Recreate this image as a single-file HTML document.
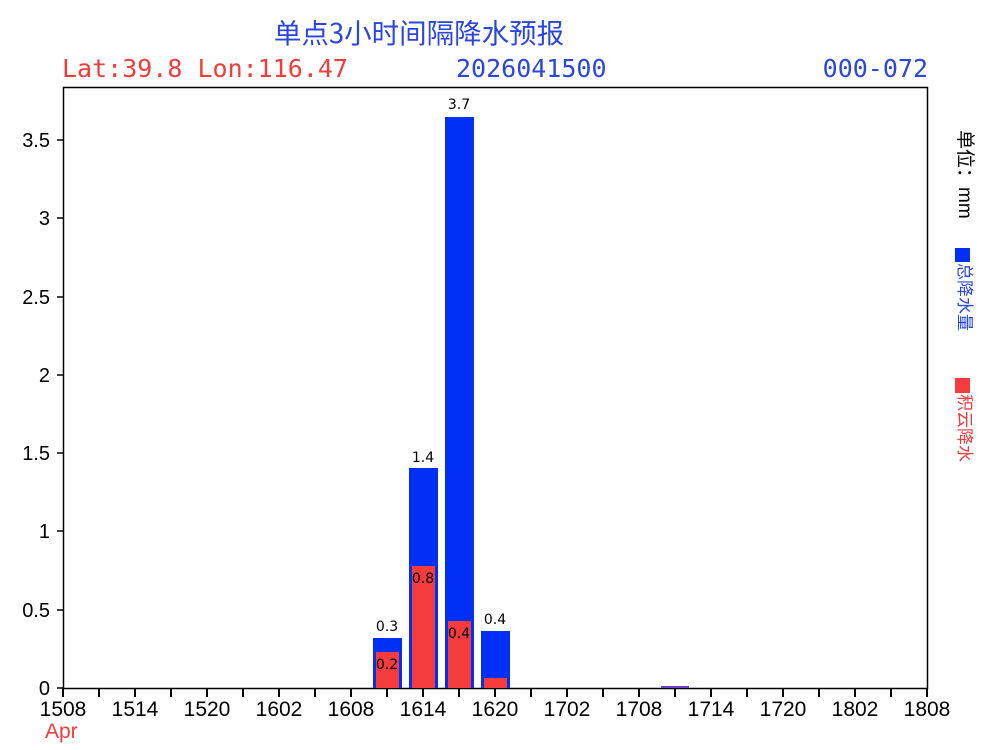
<!DOCTYPE html>
<html><head><meta charset="utf-8"><style>
body{margin:0;background:#fff;width:1000px;height:750px;overflow:hidden;position:relative;font-family:"Liberation Sans","Noto Sans CJK SC",sans-serif}
.t{position:absolute;white-space:nowrap}
.m{font-family:"DejaVu Sans Mono","Liberation Mono",monospace}
.r{position:absolute;white-space:nowrap;transform-origin:0 0;transform:rotate(90deg);font-size:17px;line-height:17px}
</style></head><body>
<div class="t" style="left:0;width:838px;text-align:center;top:11px;font-size:27.5px;color:#2a45e0;font-family:'Noto Sans CJK SC',sans-serif">单点3小时间隔降水预报</div>
<div class="t m" style="left:62px;top:54px;font-size:25px;color:#f03c3c">Lat:39.8 Lon:116.47</div>
<div class="t m" style="left:456px;top:54px;font-size:25px;color:#2a45e0">2026041500</div>
<div class="t m" style="right:72px;top:54px;font-size:25px;color:#2a45e0">000-072</div>
<svg width="1000" height="750" style="position:absolute;left:0;top:0" font-family="Liberation Sans, sans-serif">
<rect x="63.5" y="87.5" width="864" height="601" fill="none" stroke="#000" stroke-width="1.5"/>
<g fill="#0030f5">
<rect x="373" y="638" width="29" height="50"/>
<rect x="409" y="468" width="29" height="220"/>
<rect x="445" y="117" width="29" height="571"/>
<rect x="481" y="631" width="29" height="57"/>
<rect x="661" y="686" width="28" height="2" fill="#7040c0"/>
</g>
<g fill="#f43c3c">
<rect x="376" y="652" width="23" height="36"/>
<rect x="412" y="566" width="23" height="122"/>
<rect x="448" y="621" width="23" height="67"/>
<rect x="484" y="678" width="23" height="10"/>
</g>
<g font-size="14" text-anchor="middle" fill="#000" font-family="DejaVu Sans, sans-serif">
<text x="387" y="631">0.3</text><text x="423" y="462">1.4</text><text x="459" y="109">3.7</text><text x="495" y="624">0.4</text>
<text x="387" y="669">0.2</text><text x="423" y="583">0.8</text><text x="459" y="638">0.4</text>
</g>
<g font-size="20" text-anchor="end" fill="#000">
<text x="50" y="695">0</text><text x="50" y="617">0.5</text><text x="50" y="538">1</text><text x="50" y="460">1.5</text><text x="50" y="382">2</text><text x="50" y="304">2.5</text><text x="50" y="225">3</text><text x="50" y="147">3.5</text>
</g>
<g stroke="#000" stroke-width="1.5">
<line x1="57" y1="688" x2="63" y2="688"/><line x1="57" y1="610" x2="63" y2="610"/><line x1="57" y1="531" x2="63" y2="531"/><line x1="57" y1="453" x2="63" y2="453"/><line x1="57" y1="375" x2="63" y2="375"/><line x1="57" y1="297" x2="63" y2="297"/><line x1="57" y1="218" x2="63" y2="218"/><line x1="57" y1="140" x2="63" y2="140"/>
</g>
<g stroke="#000" stroke-width="2">
<line x1="63" y1="688" x2="63" y2="697"/><line x1="99" y1="688" x2="99" y2="697"/><line x1="135" y1="688" x2="135" y2="697"/><line x1="171" y1="688" x2="171" y2="697"/><line x1="207" y1="688" x2="207" y2="697"/><line x1="243" y1="688" x2="243" y2="697"/><line x1="279" y1="688" x2="279" y2="697"/><line x1="315" y1="688" x2="315" y2="697"/><line x1="351" y1="688" x2="351" y2="697"/><line x1="387" y1="688" x2="387" y2="697"/><line x1="423" y1="688" x2="423" y2="697"/><line x1="459" y1="688" x2="459" y2="697"/><line x1="495" y1="688" x2="495" y2="697"/><line x1="531" y1="688" x2="531" y2="697"/><line x1="567" y1="688" x2="567" y2="697"/><line x1="603" y1="688" x2="603" y2="697"/><line x1="639" y1="688" x2="639" y2="697"/><line x1="675" y1="688" x2="675" y2="697"/><line x1="711" y1="688" x2="711" y2="697"/><line x1="747" y1="688" x2="747" y2="697"/><line x1="783" y1="688" x2="783" y2="697"/><line x1="819" y1="688" x2="819" y2="697"/><line x1="855" y1="688" x2="855" y2="697"/><line x1="891" y1="688" x2="891" y2="697"/><line x1="927" y1="688" x2="927" y2="697"/>
</g>
<g font-size="21" text-anchor="middle" fill="#000">
<text x="63" y="716">1508</text><text x="135" y="716">1514</text><text x="207" y="716">1520</text><text x="279" y="716">1602</text><text x="351" y="716">1608</text><text x="423" y="716">1614</text><text x="495" y="716">1620</text><text x="567" y="716">1702</text><text x="639" y="716">1708</text><text x="711" y="716">1714</text><text x="783" y="716">1720</text><text x="855" y="716">1802</text><text x="927" y="716">1808</text>
</g>
<text x="45" y="738" font-size="21" fill="#f03c3c">Apr</text>
<rect x="955" y="248" width="15" height="14" fill="#0030f5"/>
<rect x="955" y="378" width="15" height="15" fill="#f43c3c"/>
</svg>
<div class="r" style="left:974px;top:130px;color:#000;font-size:19px;line-height:19px">单位：mm</div>
<div class="r" style="left:973px;top:263px;color:#2a45e0">总降水量</div>
<div class="r" style="left:973px;top:394px;color:#f03c3c">积云降水</div>
</body></html>
